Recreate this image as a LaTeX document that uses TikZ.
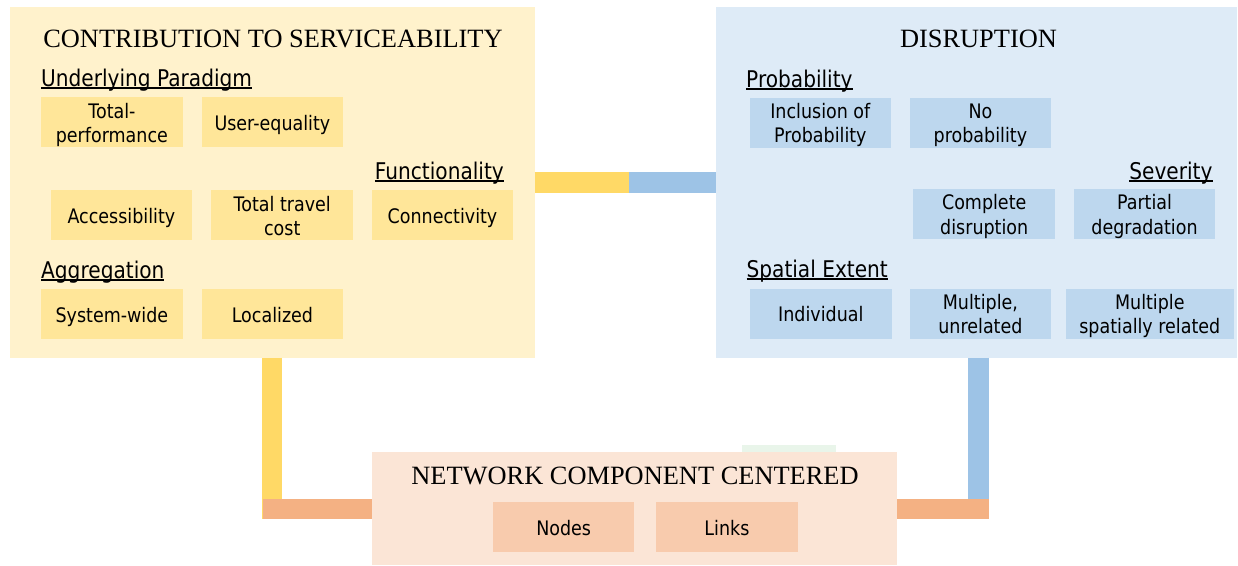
\documentclass[tikz,border=0pt]{standalone}
\usepackage{fontspec}
\setmainfont{Liberation Serif}
\newfontfamily\tah[FakeStretch=0.875]{DejaVu Sans}
\usetikzlibrary{calc}
\definecolor{panY}{HTML}{FFF2CC}
\definecolor{boxY}{HTML}{FFE699}
\definecolor{conY}{HTML}{FFD966}
\definecolor{panB}{HTML}{DEEBF7}
\definecolor{boxB}{HTML}{BDD7EE}
\definecolor{conB}{HTML}{9DC3E6}
\definecolor{panO}{HTML}{FBE5D6}
\definecolor{boxO}{HTML}{F8CBAD}
\definecolor{conO}{HTML}{F4B183}
\definecolor{grn}{HTML}{E9F5EA}
\newcommand\hul[1]{\sbox0{#1}\rlap{\usebox0}\rule[-2.6pt]{\wd0}{1.3pt}}
\newcommand\bt[1]{\raisebox{-3.1pt}[\height][\depth]{\begin{tabular}{@{}c@{}}#1\end{tabular}}}
\tikzset{
  panel/.style={anchor=north west, inner sep=0, outer sep=0},
  ttl/.style={font=\fontsize{26.4}{30}\selectfont, anchor=base, inner sep=0},
  hd/.style={font=\tah\fontsize{23}{27}\selectfont, inner sep=0},
  bx/.style={minimum height=50pt, minimum width=141.5pt, inner sep=0, outer sep=0, font=\tah\fontsize{20}{24.5}\selectfont},
  ybox/.style={bx, fill=boxY},
  bbox/.style={bx, fill=boxB},
  obox/.style={bx, fill=boxO},
  cy/.style={draw=conY, line width=20.7pt, line cap=butt},
  cb/.style={draw=conB, line width=20.7pt, line cap=butt},
  co/.style={draw=conO, line width=20pt, line cap=butt},
}
\begin{document}
\begin{tikzpicture}[x=1pt, y=-1pt]
\useasboundingbox (0,0) rectangle (1238,565);
% faint green rectangle
\fill[grn] (742,445) rectangle (835.5,452);
% panels
\node[panel, fill=panY, minimum width=525pt, minimum height=350.5pt] (cs) at (9.6,7.3) {};
\node[panel, fill=panB, minimum width=521pt, minimum height=350.5pt] (dis) at (716,7.3) {};
\node[panel, fill=panO, minimum width=525pt, minimum height=113.3pt] (ncc) at (372,451.7) {};
% connectors
\coordinate (hm) at ($(cs.east)+(94.7,0)$);
\draw[cy] (cs.east) -- (hm);
\draw[cb] (hm) -- (dis.west);
\coordinate (lb) at (272.1,519.3);
\draw[cy] (cs.south) -- (lb);
\coordinate (lo) at (263.3,509.3);
\draw[co] (lo) -- (lo -| ncc.west);
\coordinate (rt) at ($(dis.south)+(2.3,0)$);
\coordinate (rb) at (978.8,499.3);
\draw[cb] (rt) -- (rb);
\coordinate (ro) at (989.2,509.3);
\draw[co] (ncc.east |- ro) -- (ro);
% titles
\node[ttl] (cst) at (273,47) {CONTRIBUTION TO SERVICEABILITY};
\node[ttl] (dist) at (978.5,47) {DISRUPTION};
\node[ttl] (ncct) at (635,484) {NETWORK COMPONENT CENTERED};
% left headings
\node[hd, anchor=base west] (h1) at (41,86) {\hul{Underlying Paradigm}};
\node[hd, anchor=base east] (h2) at (504,179) {\hul{Functionality}};
\node[hd, anchor=base west] (h3) at (41,278) {\hul{Aggregation}};
% left boxes
\node[ybox] (tp) at (111.9,122.3) {\bt{Total-\\performance}};
\node[ybox] (ue) at (272.4,122.3) {\bt{User-equality}};
\node[ybox] (ac) at (121.4,215.3) {\bt{Accessibility}};
\node[ybox] (tt) at (282.2,215.3) {\bt{Total travel\\cost}};
\node[ybox] (cn) at (442.5,215.3) {\bt{Connectivity}};
\node[ybox] (sw) at (111.9,314.3) {\bt{System-wide}};
\node[ybox] (lz) at (272.4,314.3) {\bt{Localized}};
% right headings
\node[hd, anchor=base west] (h4) at (746,87) {\hul{Probability}};
\node[hd, anchor=base east] (h5) at (1212.7,179) {\hul{Severity}};
\node[hd, anchor=base west] (h6) at (746.4,277) {\hul{Spatial Extent}};
% right boxes
\node[bbox] (ip) at (820.3,122.7) {\bt{Inclusion of\\Probability}};
\node[bbox] (np) at (980.4,122.7) {\bt{No\\probability}};
\node[bbox] (cd) at (984.2,214.2) {\bt{Complete\\disruption}};
\node[bbox] (pd) at (1144.5,214.2) {\bt{Partial\\degradation}};
\node[bbox] (iv) at (820.8,313.7) {\bt{Individual}};
\node[bbox] (mu) at (980.4,313.7) {\bt{Multiple,\\unrelated}};
\node[bbox, minimum width=167.6pt] (ms) at (1149.8,313.7) {\bt{Multiple\\spatially related}};
% bottom boxes
\node[obox] (nd) at (563.7,527.3) {\bt{Nodes}};
\node[obox] (lk) at (726.9,527.3) {\bt{Links}};
\end{tikzpicture}
\end{document}
